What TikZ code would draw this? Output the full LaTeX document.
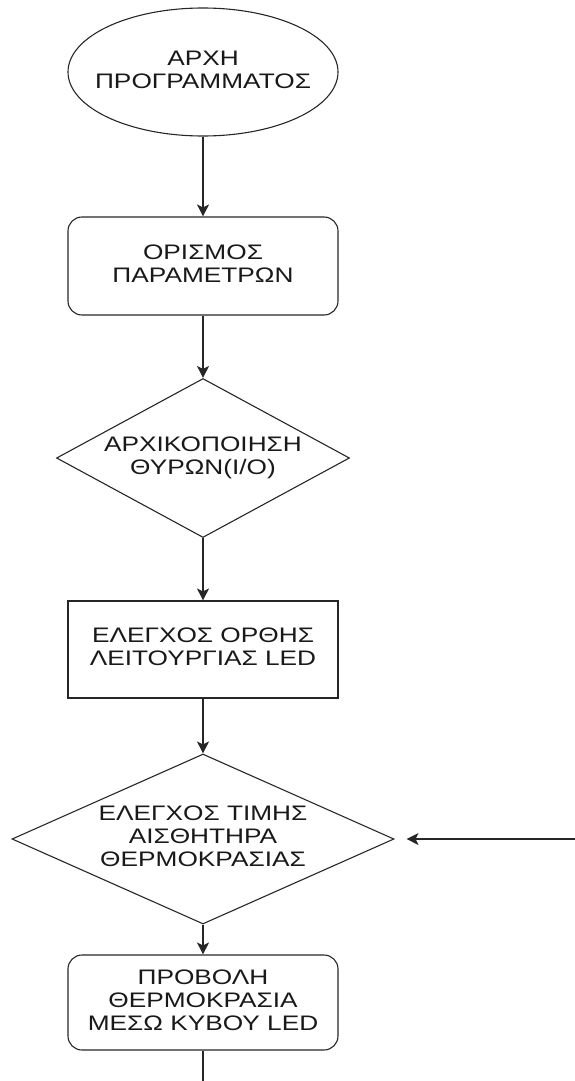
\documentclass[tikz,border=0pt]{standalone}
\usepackage{fontspec}
\setmainfont{Liberation Sans}
\usetikzlibrary{shapes.geometric,arrows.meta}
% the lettering of the chart is set wide
\newcommand{\wide}[1]{\scalebox{1.25}[1]{\begin{tabular}{@{}c@{}}#1\end{tabular}}}
\begin{document}
\begin{tikzpicture}[
	x=1pt, y=-1pt,
	every node/.style={ font=\fontsize{21}{23}\selectfont, text=black!90, align=center },
	terminal/.style={ ellipse, draw=black!85, line width=1.1pt, inner xsep=-20pt, inner ysep=0pt, minimum width=270pt, minimum height=128pt },
	stepbox/.style={ rectangle, draw=black!85, line width=1.1pt, inner sep=0pt, minimum width=270pt },
	roundbox/.style={ stepbox, rounded corners=14pt },
	decision/.style={ diamond, draw=black!85, line width=1.1pt, inner sep=0pt },
	flow/.style={ draw=black!85, line width=1.1pt, -{Stealth[length=12pt,width=12pt,inset=3pt]} }
]
\useasboundingbox (0,0) rectangle (575,1081);

\node at (203,72) (start) [terminal] {\wide{ΑΡΧΗ\\ΠΡΟΓΡΑΜΜΑΤΟΣ}};
\node at (203,266) (params) [roundbox,minimum height=98pt] {\wide{ΟΡΙΣΜΟΣ\\ΠΑΡΑΜΕΤΡΩΝ}};
\draw[flow] (start) -- (params);
\node at (203,458) (ports) [decision,shape aspect=1.84,inner xsep=-8pt,minimum width=293pt,minimum height=159pt] {\wide{ΑΡΧΙΚΟΠΟΙΗΣΗ\\ΘΥΡΩΝ(I/O)}};
\draw[flow] (params) -- (ports);
\node at (203,649.5) (ledtest) [stepbox,minimum height=97pt] {\wide{ΕΛΕΓΧΟΣ ΟΡΘΗΣ\\ΛΕΙΤΟΥΡΓΙΑΣ LED}};
\draw[flow] (ports) -- (ledtest);
\node at (203,839) (sensor) [decision,shape aspect=2.25,inner xsep=-8pt,minimum width=382pt,minimum height=170pt] {\wide{ΕΛΕΓΧΟΣ ΤΙΜΗΣ\\ΑΙΣΘΗΤΗΡΑ\\ΘΕΡΜΟΚΡΑΣΙΑΣ}};
\draw[flow] (ledtest) -- (sensor);
\node at (203,1002.5) (display) [roundbox,minimum height=95pt] {\wide{ΠΡΟΒΟΛΗ\\ΘΕΡΜΟΚΡΑΣΙΑ\\ΜΕΣΩ ΚΥΒΟΥ LED}};
\draw[flow] (sensor) -- (display);

% loop back to the sensor check
\coordinate (back) at (577,1081.5);
\draw[flow, shorten >=12pt] (display.south) |- (back) |- (sensor.east);

\end{tikzpicture}
\end{document}
